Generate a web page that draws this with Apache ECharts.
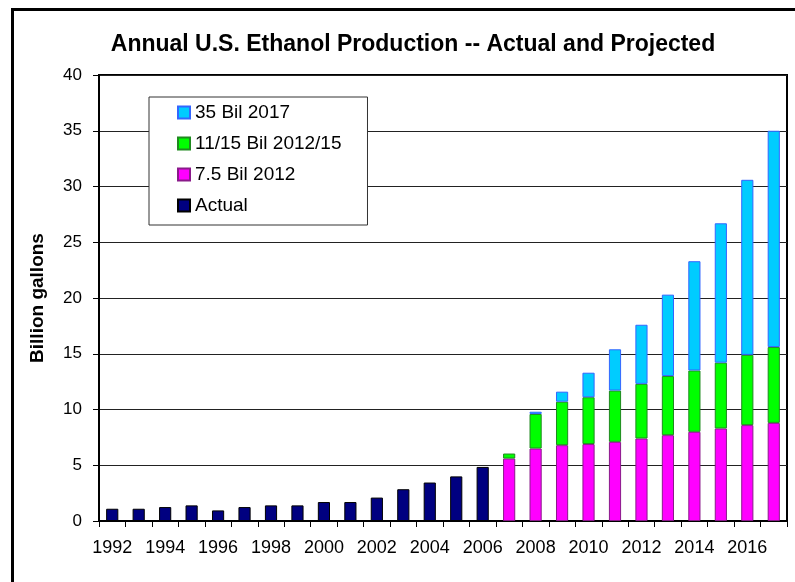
<!DOCTYPE html>
<html>
<head>
<meta charset="utf-8">
<script src="https://cdn.jsdelivr.net/npm/echarts@6/dist/echarts.min.js"></script>
<style>
  html, body { margin: 0; padding: 0; background: #fff; }
  #chart { width: 795px; height: 582px; }
</style>
</head>
<body>
<div id="chart"></div>
<script>
// years on the x axis
var years = ['1992','1993','1994','1995','1996','1997','1998','1999','2000','2001','2002','2003','2004','2005','2006',
  '2007','2008','2009','2010','2011','2012','2013','2014','2015','2016','2017'];

// billion gallons ('-' = no bar)
var actual = [1.1,1.1,1.25,1.4,0.95,1.25,1.4,1.4,1.7,1.7,2.1,2.85,3.45,4.0,4.85,
  '-','-','-','-','-','-','-','-','-','-','-'];
var bil75 = ['-','-','-','-','-','-','-','-','-','-','-','-','-','-','-',
  5.6,6.5,6.8,6.9,7.1,7.4,7.7,8.0,8.3,8.6,8.8];
// extra on top of the 7.5 bil bar
var bil1115 = ['-','-','-','-','-','-','-','-','-','-','-','-','-','-','-',
  0.45,3.1,3.9,4.2,4.6,4.9,5.3,5.5,5.9,6.3,6.8];
// extra on top of the 11/15 bil bar
var bil35 = ['-','-','-','-','-','-','-','-','-','-','-','-','-','-','-',
  '-',0.2,0.9,2.2,3.7,5.3,7.3,9.8,12.5,15.7,19.4];

var yTicks = {min: 0, max: 40, interval: 5};

function barSeries(name, data, color, border) {
  return {
    name: name,
    type: 'bar',
    stack: 'total',
    barWidth: '46%',
    data: data,
    itemStyle: {color: color, borderColor: border, borderWidth: 1},
    emphasis: {disabled: true}
  };
}

var chart = echarts.init(document.getElementById('chart'));
chart.setOption({
  animation: false,
  backgroundColor: '#fff',
  textStyle: {fontFamily: 'Liberation Sans, Arial, sans-serif'},
  title: {
    text: 'Annual U.S. Ethanol Production -- Actual and Projected',
    left: 408,
    top: 28,
    textAlign: 'center',
    textStyle: {fontSize: 23, fontWeight: 'bold', color: '#000'}
  },
  graphic: [{
    //outer frame, only top and left edges fall inside the picture
    type: 'rect',
    shape: {x: 12.5, y: 9.5, width: 900, height: 700},
    style: {fill: 'none', stroke: '#000', lineWidth: 3},
    z: 100
  }],
  legend: {
    orient: 'vertical',
    left: 149,
    top: 97,
    padding: [6, 26, 10, 28],
    itemGap: 12,
    itemWidth: 12,
    itemHeight: 12,
    icon: 'rect',
    backgroundColor: '#fff',
    borderColor: '#333',
    borderWidth: 1,
    textStyle: {fontSize: 19, color: '#000'},
    data: ['35 Bil 2017', '11/15 Bil 2012/15', '7.5 Bil 2012', 'Actual']
  },
  grid: {
    left: 99, right: 8, top: 75, bottom: 61,
    show: true, borderColor: '#000', borderWidth: 2, backgroundColor: '#fff'
  },
  xAxis: {
    type: 'category',
    data: years,
    axisLine: {lineStyle: {color: '#000', width: 2}},
    axisTick: {show: true, interval: 0, length: 6, lineStyle: {color: '#000'}},
    axisLabel: {interval: 1, fontSize: 18, color: '#000', margin: 18}
  },
  yAxis: {
    type: 'value',
    min: yTicks.min, max: yTicks.max, interval: yTicks.interval,
    name: 'Billion gallons',
    nameLocation: 'middle',
    nameGap: 52,
    nameTextStyle: {fontSize: 19, fontWeight: 'bold', color: '#000'},
    axisLine: {show: true, lineStyle: {color: '#000', width: 2}},
    axisTick: {show: true, length: 6, lineStyle: {color: '#000'}},
    axisLabel: {fontSize: 17, color: '#000', margin: 17},
    splitLine: {lineStyle: {color: '#222', width: 1}}
  },
  series: [
    barSeries('Actual', actual, '#000080', '#000'),
    barSeries('7.5 Bil 2012', bil75, '#ff00ff', '#8a1a8a'),
    barSeries('11/15 Bil 2012/15', bil1115, '#00ff00', '#1f8a1f'),
    barSeries('35 Bil 2017', bil35, '#00ccff', '#3366ff')
  ]
});
</script>
</body>
</html>
